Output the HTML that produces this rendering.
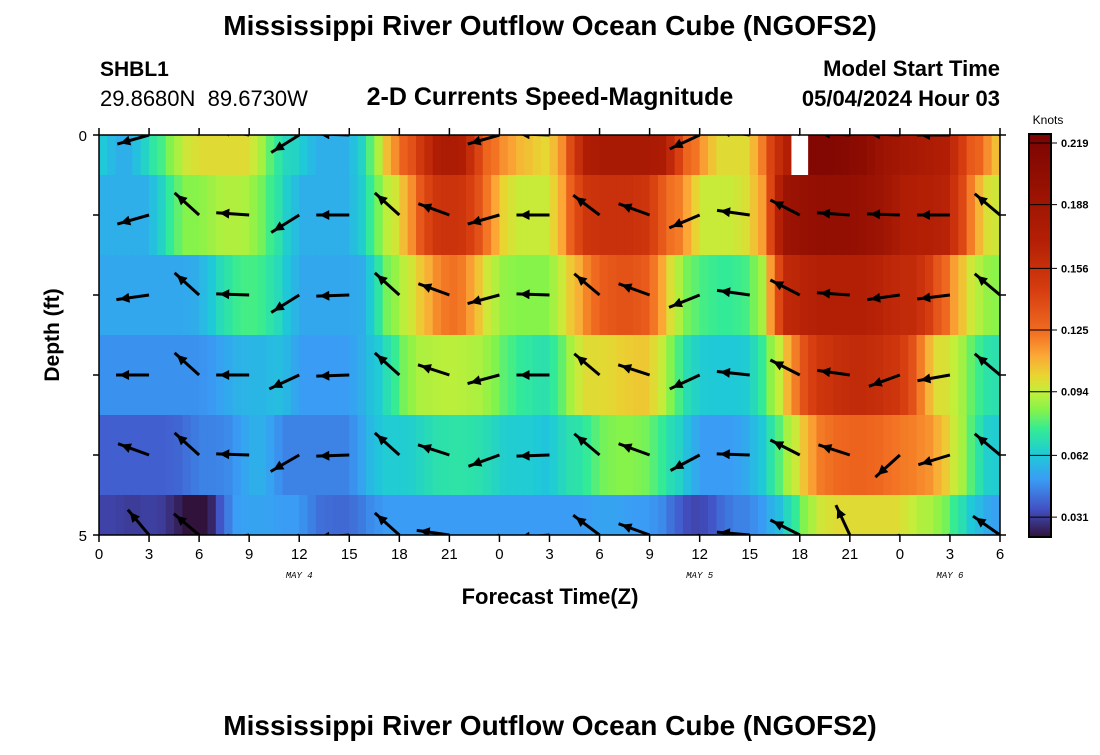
<!DOCTYPE html>
<html><head><meta charset="utf-8"><style>
body{margin:0;background:#fff;width:1100px;height:750px;overflow:hidden;font-family:"Liberation Sans",sans-serif}
</style></head><body>
<svg id="chart" width="1100" height="750" xmlns="http://www.w3.org/2000/svg" font-family="Liberation Sans, sans-serif">
<text x="550" y="35" font-size="28" font-weight="bold" text-anchor="middle">Mississippi River Outflow Ocean Cube (NGOFS2)</text>
<text x="100" y="76" font-size="21" font-weight="bold">SHBL1</text>
<text x="100" y="106" font-size="22" xml:space="preserve">29.8680N  89.6730W</text>
<text x="550" y="105" font-size="25" font-weight="bold" text-anchor="middle">2-D Currents Speed-Magnitude</text>
<text x="1000" y="76" font-size="22" font-weight="bold" text-anchor="end">Model Start Time</text>
<text x="1000" y="106" font-size="22" font-weight="bold" text-anchor="end">05/04/2024 Hour 03</text>
<text transform="translate(59,335) rotate(-90)" font-size="21" font-weight="bold" text-anchor="middle">Depth (ft)</text>
<text x="550" y="604" font-size="22" font-weight="bold" text-anchor="middle">Forecast Time(Z)</text>
<text x="550" y="735" font-size="28" font-weight="bold" text-anchor="middle">Mississippi River Outflow Ocean Cube (NGOFS2)</text>
<text x="1048" y="124" font-size="12" text-anchor="middle">Knots</text>
<defs><clipPath id="plotclip"><rect x="99" y="135" width="901" height="400"/></clipPath>
<linearGradient id="cbgrad" x1="0" y1="1" x2="0" y2="0"></linearGradient></defs>
<g id="cells" clip-path="url(#plotclip)"></g>
<g id="arrows" clip-path="url(#plotclip)"></g>
<g id="axes"></g>
</svg>
<script>
const hours = Array.from({length:55},(_,i)=>i);
const depths = [0,1,2,3,4,5];
const row0 = [0.065,0.055,0.055,0.07,0.08,0.095,0.1,0.1,0.1,0.1,0.085,0.068,0.065,0.055,0.055,0.055,0.07,0.1,0.125,0.14,0.17,0.18,0.17,0.13,0.12,0.11,0.105,0.1,0.125,0.17,0.18,0.18,0.18,0.18,0.175,0.13,0.12,0.1,0.1,0.1,0.13,0.17,null,0.215,0.215,0.21,0.205,0.19,0.185,0.18,0.175,0.17,0.135,0.125,0.1];
const row1 = [0.055,0.055,0.055,0.055,0.07,0.085,0.085,0.09,0.092,0.09,0.08,0.068,0.055,0.055,0.055,0.055,0.068,0.09,0.1,0.125,0.15,0.155,0.15,0.13,0.105,0.095,0.095,0.095,0.12,0.15,0.155,0.155,0.155,0.15,0.125,0.12,0.095,0.095,0.095,0.1,0.12,0.19,0.195,0.2,0.2,0.2,0.195,0.19,0.175,0.17,0.17,0.165,0.13,0.1,0.095];
const row2 = [0.053,0.053,0.053,0.053,0.053,0.053,0.055,0.065,0.075,0.078,0.075,0.065,0.053,0.053,0.053,0.053,0.055,0.08,0.09,0.1,0.115,0.125,0.12,0.1,0.088,0.085,0.085,0.085,0.1,0.115,0.13,0.135,0.135,0.13,0.105,0.085,0.078,0.075,0.075,0.078,0.095,0.16,0.165,0.17,0.17,0.17,0.17,0.165,0.16,0.16,0.14,0.12,0.1,0.088,0.085];
const row3 = [0.048,0.048,0.048,0.048,0.048,0.048,0.048,0.05,0.055,0.057,0.057,0.06,0.05,0.05,0.05,0.05,0.057,0.065,0.08,0.09,0.092,0.093,0.092,0.09,0.082,0.075,0.072,0.07,0.085,0.1,0.1,0.102,0.105,0.105,0.09,0.072,0.063,0.062,0.062,0.063,0.08,0.1,0.13,0.15,0.155,0.16,0.16,0.155,0.15,0.13,0.1,0.098,0.085,0.072,0.07];
const row4 = [0.038,0.038,0.038,0.038,0.038,0.04,0.045,0.045,0.047,0.055,0.055,0.045,0.045,0.045,0.045,0.045,0.055,0.063,0.063,0.065,0.07,0.072,0.072,0.07,0.065,0.063,0.063,0.06,0.07,0.072,0.082,0.085,0.085,0.082,0.072,0.063,0.05,0.05,0.05,0.055,0.065,0.085,0.1,0.12,0.125,0.128,0.128,0.125,0.122,0.12,0.115,0.1,0.085,0.065,0.063];
const row5 = [0.032,0.032,0.03,0.032,0.03,0.022,0.015,0.03,0.05,0.052,0.052,0.05,0.05,0.042,0.04,0.04,0.045,0.05,0.05,0.05,0.05,0.05,0.05,0.05,0.05,0.05,0.05,0.05,0.05,0.05,0.052,0.052,0.05,0.05,0.045,0.035,0.032,0.038,0.045,0.045,0.052,0.062,0.08,0.095,0.1,0.1,0.1,0.1,0.1,0.092,0.09,0.08,0.065,0.055,0.05];
const speedRows = [row0,row1,row2,row3,row4,row5];
const arrowHours = [3,6,9,12,15,18,21,24,27,30,33,36,39,42,45,48,51,54];
const dir0 = [196,150,170,212,178,150,160,196,178,150,160,205,172,150,176,178,180,150];
const dir1 = [196,138,176,212,180,138,160,196,180,143,160,203,172,153,176,178,180,140];
const dir2 = [188,138,178,212,182,138,160,195,178,140,160,202,172,153,176,188,187,140];
const dir3 = [180,138,180,205,182,138,162,195,180,140,162,205,174,153,172,200,190,140];
const dir4 = [160,138,178,210,182,138,162,200,182,140,160,208,178,153,162,222,197,140];
const dir5 = [130,140,190,200,185,138,172,200,185,143,160,200,175,153,115,200,200,145];
const dirRows = [dir0,dir1,dir2,dir3,dir4,dir5];
const xTickLabels = ['0','3','6','9','12','15','18','21','0','3','6','9','12','15','18','21','0','3','6'];
const cbTicks = [0.031,0.062,0.094,0.125,0.156,0.188,0.219];

const NS='http://www.w3.org/2000/svg';
const X0=99,X1=1000,Y0=135,Y1=535,H=54;
const xs=h=>X0+(X1-X0)*h/H;
const ys=d=>Y0+(Y1-Y0)*d/5;
const VMIN=0.021,VMAX=0.2235;
const stops=[[0.021,'#30123b'],[0.035,'#4350c4'],[0.05,'#3a9cf5'],[0.062,'#1fc9d8'],[0.075,'#33eb96'],[0.085,'#86f34a'],[0.094,'#c3ee3a'],[0.102,'#e8d532'],[0.112,'#fba836'],[0.125,'#f06a20'],[0.145,'#d63d10'],[0.17,'#b31f05'],[0.2,'#930f02'],[0.2235,'#7a0403']];
function hex(c){return [1,3,5].map(i=>parseInt(c.substr(i,2),16));}
function color(v){
  v=Math.max(VMIN,Math.min(VMAX,v));
  for(let i=1;i<stops.length;i++){if(v<=stops[i][0]){const a=stops[i-1],b=stops[i];const t=(v-a[0])/(b[0]-a[0]);const ca=hex(a[1]),cb=hex(b[1]);return 'rgb('+ca.map((c,k)=>Math.round(c+(cb[k]-c)*t)).join(',')+')';}}
  return stops[stops.length-1][1];
}
function el(tag,attrs,parent){const e=document.createElementNS(NS,tag);for(const k in attrs)e.setAttribute(k,attrs[k]);parent.appendChild(e);return e;}
const cells=document.getElementById('cells');
const SUB=[-0.5,0,0.5];
speedRows.forEach((row,d)=>{
  const yt=d===0?Y0:ys(d-0.5), yb=d===5?Y1:ys(d+0.5);
  row.forEach((v,h)=>{
    // render each hourly cell as 2 half-hour strips, shaded toward the neighbour
    [[-0.5,0,h-1],[0,0.5,h+1]].forEach(([a,b,n])=>{
      const x0=Math.max(X0,xs(h+a)), x1=Math.min(X1,xs(h+b));
      if(x1<=x0) return;
      let c;
      if(v===null) c='#ffffff';
      else { const nv=row[n]; c=color(nv==null?v:(0.7*v+0.3*nv)); }
      const r=el('rect',{x:x0,y:yt,width:x1-x0+0.6,height:yb-yt,fill:c},cells);
      
      
    });
  });
});
const arrows=document.getElementById('arrows');
dirRows.forEach((row,d)=>{
  row.forEach((a,i)=>{
    const L=30,ang=a*Math.PI/180;
    const tx=xs(arrowHours[i]),ty=ys(d);
    const hx=tx+L*Math.cos(ang),hy=ty-L*Math.sin(ang);
    const g=el('g',{},arrows);
    
    
    el('line',{x1:tx,y1:ty,x2:hx+3*Math.cos(ang),y2:hy-3*Math.sin(ang),stroke:'#000','stroke-width':3},g);
    const ux=Math.cos(ang),uy=-Math.sin(ang),px=-uy,py=ux;
    const bx=hx-ux*10,by=hy-uy*10;
    el('polygon',{points:`${hx},${hy} ${bx+px*5},${by+py*5} ${bx-px*5},${by-py*5}`,fill:'#000'},g);
  });
});
const axes=document.getElementById('axes');
el('rect',{x:X0,y:Y0,width:X1-X0,height:Y1-Y0,fill:'none',stroke:'#000','stroke-width':1.5},axes);
xTickLabels.forEach((t,i)=>{
  const x=xs(i*3);
  el('line',{x1:x,y1:Y1,x2:x,y2:Y1+7,stroke:'#000','stroke-width':1.5},axes);
  el('line',{x1:x,y1:Y0,x2:x,y2:Y0-7,stroke:'#000','stroke-width':1.5},axes);
  const tx=el('text',{x:x,y:Y1+24,'font-size':15,'text-anchor':'middle'},axes);
  tx.textContent=t;
  
  
});
depths.forEach(d=>{
  el('line',{x1:X0-6,y1:ys(d),x2:X0,y2:ys(d),stroke:'#000','stroke-width':1.5},axes);
  el('line',{x1:X1,y1:ys(d),x2:X1+6,y2:ys(d),stroke:'#000','stroke-width':1.5},axes);
});
[[0,'0'],[5,'5']].forEach(([d,t])=>{
  const tx=el('text',{x:X0-12,y:ys(d)+6,'font-size':15,'text-anchor':'end'},axes);
  tx.textContent=t;
  
  
});
[['MAY 4',12],['MAY 5',36],['MAY 6',51]].forEach(([t,h])=>{
  const tx=el('text',{x:xs(h),y:578,'font-size':9,'font-style':'italic','font-family':'Liberation Mono, monospace','text-anchor':'middle'},axes);
  tx.textContent=t;
  
  
});
const CB0=134,CB1=537,CBX=1029,CBW=22;
const cy=v=>CB1-(CB1-CB0)*(v-VMIN)/(VMAX-VMIN);
const grad=document.getElementById('cbgrad');
stops.forEach(s=>{el('stop',{offset:((s[0]-VMIN)/(VMAX-VMIN)),'stop-color':s[1]},grad);});
const cb=el('rect',{x:CBX,y:CB0,width:CBW,height:CB1-CB0,fill:'url(#cbgrad)',stroke:'#000','stroke-width':2},axes);


cbTicks.forEach(v=>{
  const y=cy(v);
  el('line',{x1:CBX,y1:y,x2:CBX+CBW+6,y2:y,stroke:'#000','stroke-width':1},axes);
  const tx=el('text',{x:CBX+CBW+10,y:y+4,'font-size':11,'font-weight':'bold'},axes);
  tx.textContent=v.toFixed(3);
  
  
});
</script>
</body></html>
